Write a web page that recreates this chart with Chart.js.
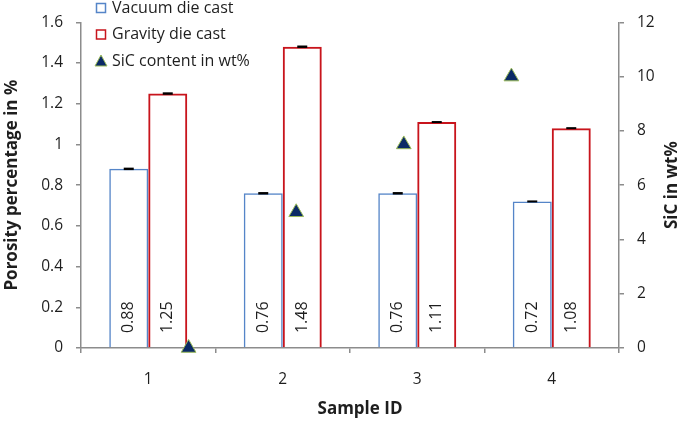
<!DOCTYPE html>
<html>
<head>
<meta charset="utf-8">
<script src="https://cdn.jsdelivr.net/npm/chart.js@4/dist/chart.umd.min.js"></script>
<style>
  html, body { margin: 0; padding: 0; background: #fff; }
</style>
</head>
<body>
<canvas id="chart" width="685" height="423"></canvas>
<script>
// data
const samples    = ['1', '2', '3', '4'];
const vacuum     = [0.88, 0.76, 0.76, 0.72];
const gravity    = [1.25, 1.48, 1.11, 1.08];
const vacuumErr  = [0.006, 0.006, 0.006, 0.004];
const gravityErr = [0.006, 0.006, 0.004, 0.004];
// SiC points sit on the original's secondary x axis, which runs 0..5
const sicSample  = [1, 2, 3, 4];
const sicWt      = [0, 5, 7.5, 10];
const SEC_X_MAX  = 5;

const FONT = '"Open Sans", Lato, sans-serif';
const TXT  = '#1e1e1e';
const AXIS = '#8c8c8c';
const BLUE = '#5585c8';
const RED  = '#c8141c';
const NAVY = '#0b2a66';

// secondary-axis value -> category index units (category axis uses offset, so it spans -0.5..n-0.5)
const toCatIndex = s => s * samples.length / SEC_X_MAX - 0.5;

/* ── labels, error marks, legend, axis titles ───────────────── */
const extras = {
  id: 'extras',
  afterDatasetsDraw(chart) {
    const ctx = chart.ctx;
    const yScale = chart.scales.y;
    const errs = [vacuumErr, gravityErr];

    [0, 1].forEach(di => {
      const meta = chart.getDatasetMeta(di);
      const vals = chart.data.datasets[di].data;
      meta.data.forEach((bar, j) => {
        // error mark on bar top
        const yTop = yScale.getPixelForValue(vals[j] + errs[di][j]);
        const yBot = yScale.getPixelForValue(vals[j] - errs[di][j]);
        ctx.fillStyle = '#000';
        ctx.fillRect(bar.x - 5, Math.min(yTop, bar.y - 1), 10, Math.max(yBot - yTop, 2));

        // rotated value label
        ctx.save();
        ctx.translate(bar.x, bar.base - 30);
        ctx.rotate(-Math.PI / 2);
        ctx.font = '16px ' + FONT;
        ctx.fillStyle = TXT;
        ctx.textAlign = 'center';
        ctx.textBaseline = 'middle';
        ctx.fillText(vals[j].toFixed(2), 0, 0);
        ctx.restore();
      });
    });
  },
  afterDraw(chart) {
    const ctx = chart.ctx;
    const area = chart.chartArea;
    // legend
    ctx.save();
    ctx.font = '16px ' + FONT;
    ctx.textBaseline = 'middle';
    ctx.textAlign = 'left';
    chart.data.datasets.forEach((ds, i) => {
      const cy = 8 + i * 26.5;
      if (ds.type === 'scatter') {
        ctx.beginPath();
        ctx.moveTo(101, cy - 6);
        ctx.lineTo(107, cy + 5);
        ctx.lineTo(95, cy + 5);
        ctx.closePath();
        ctx.fillStyle = ds.pointBackgroundColor;
        ctx.fill();
        ctx.strokeStyle = ds.pointBorderColor;
        ctx.lineWidth = 1;
        ctx.stroke();
      } else {
        ctx.strokeStyle = ds.borderColor;
        ctx.lineWidth = 1.5;
        ctx.strokeRect(96.5, cy - 4.5, 9, 9);
      }
      ctx.fillStyle = TXT;
      ctx.fillText(ds.label, 112, cy);
    });

    // x axis title
    ctx.font = 'bold 17px ' + FONT;
    ctx.textAlign = 'center';
    ctx.fillText('Sample ID', 360, 409);

    // right axis title (reads bottom to top)
    ctx.translate(672, (area.top + area.bottom) / 2);
    ctx.rotate(-Math.PI / 2);
    ctx.fillText('SiC in wt%', 0, 0);
    ctx.restore();
  }
};

const tickFont = { family: FONT, size: 15.5 };
const titleFont = { family: FONT, size: 17, weight: 'bold' };

new Chart(document.getElementById('chart'), {
  type: 'bar',
  data: {
    labels: samples,
    datasets: [
      {
        label: 'Vacuum die cast',
        data: vacuum,
        backgroundColor: 'rgba(255,255,255,0)',
        borderColor: BLUE,
        borderWidth: 1.5,
        categoryPercentage: 0.58,
        barPercentage: 1.0,
      },
      {
        label: 'Gravity die cast',
        data: gravity,
        backgroundColor: 'rgba(255,255,255,0)',
        borderColor: RED,
        borderWidth: 2,
        categoryPercentage: 0.58,
        barPercentage: 1.0,
      },
      {
        type: 'scatter',
        label: 'SiC content in wt%',
        parsing: false,
        data: sicSample.map((s, i) => ({ x: toCatIndex(s), y: sicWt[i] })),
        yAxisID: 'y2',
        pointStyle: 'triangle',
        pointRadius: 8.5,
        pointBackgroundColor: NAVY,
        pointBorderColor: '#9bbb59',
        pointBorderWidth: 1,
        showLine: false,
        clip: false,
        order: -1,
      },
    ],
  },
  options: {
    responsive: false,
    animation: false,
    layout: { padding: { top: 21, left: 0, right: 0, bottom: 0 } },
    plugins: { legend: { display: false }, tooltip: { enabled: false } },
    scales: {
      x: {
        type: 'category',
        offset: true,
        grid: { display: true, drawOnChartArea: false, offset: true, tickLength: 5, color: AXIS, lineWidth: 1.5 },
        border: { color: AXIS, width: 1.5 },
        ticks: { font: tickFont, color: TXT, padding: 17 },
        afterFit(s) { s.height = 75; },
      },
      y: {
        position: 'left',
        min: 0,
        max: 1.6,
        grid: { display: true, drawOnChartArea: false, tickLength: 5, color: AXIS, lineWidth: 1.5 },
        border: { color: AXIS, width: 1.5 },
        ticks: {
          stepSize: 0.2,
          font: tickFont,
          color: TXT,
          padding: 13,
          callback: v => String(+v.toFixed(1)),
        },
        title: { display: true, text: 'Porosity percentage in %', font: titleFont, color: TXT, padding: { top: 2, bottom: 0 } },
        afterFit(s) { s.width = 81; },
      },
      y2: {
        position: 'right',
        min: 0,
        max: 12,
        grid: { display: true, drawOnChartArea: false, tickLength: 5, color: AXIS, lineWidth: 1.5 },
        border: { color: AXIS, width: 1.5 },
        ticks: { stepSize: 2, font: tickFont, color: TXT, padding: 13 },
        afterFit(s) { s.width = 66; },
      },
    },
  },
  plugins: [extras],
});
</script>
</body>
</html>
